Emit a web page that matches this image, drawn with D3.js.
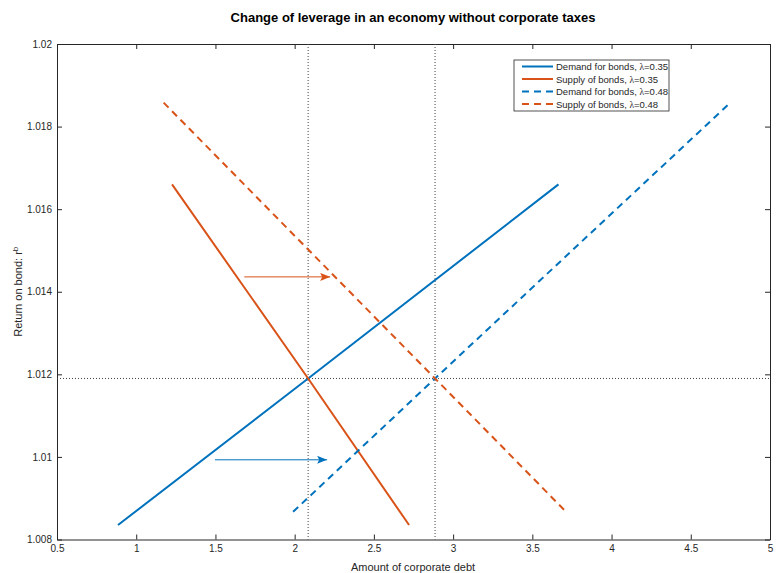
<!DOCTYPE html>
<html>
<head>
<meta charset="utf-8">
<script src="https://cdn.jsdelivr.net/npm/d3@7"></script>
<style>
  body { margin: 0; background: #fff; }
  text { font-family: "Liberation Sans", Arial, sans-serif; }
</style>
</head>
<body>
<div class="chart"></div>
<script>
// values
let demand035X = [0.885, 2.085, 3.665];
let demand035Y = [1.00835, 1.0119, 1.0166];
let supply035X = [1.226, 2.085, 2.722];
let supply035Y = [1.0166, 1.0119, 1.00835];
let demand048X = [1.99, 2.886, 4.75];
let demand048Y = [1.00867, 1.0119, 1.01858];
let supply048X = [1.173, 2.886, 3.713];
let supply048Y = [1.01858, 1.0119, 1.00867];

let equilibriumX = [2.085, 2.886];
let equilibriumY = 1.0119;

let arrowOrangeX = [1.682, 2.224], arrowOrangeY = 1.01436;
let arrowBlueX = [1.497, 2.205], arrowBlueY = 1.00993;

let xTicks = [0.5, 1, 1.5, 2, 2.5, 3, 3.5, 4, 4.5, 5];
let yTicks = [1.008, 1.01, 1.012, 1.014, 1.016, 1.018, 1.02];

let legendNames = ["Demand for bonds, ", "Supply of bonds, ", "Demand for bonds, ", "Supply of bonds, "];
let legendLambda = ["0.35", "0.35", "0.48", "0.48"];

let width = 776, height = 573;
let plotLeft = 57, plotRight = 770, plotTop = 44, plotBottom = 539.5;
let blue = "#0072BD", orange = "#D95319", axisColor = "#262626";

let svg = d3.select(".chart")
    .append("svg")
    .attr("width", width)
    .attr("height", height);

let xScale = d3.scaleLinear().domain([0.5, 5]).range([plotLeft, plotRight]);
let yScale = d3.scaleLinear().domain([1.008, 1.02]).range([plotBottom, plotTop]);

// axes, MATLAB style with inward ticks on all four sides
let fmt = d => String(+d.toFixed(3));

svg.append("g")
    .attr("transform", "translate(0," + plotBottom + ")")
    .call(d3.axisBottom(xScale).tickValues(xTicks).tickFormat(fmt).tickSizeInner(-5).tickSizeOuter(0).tickPadding(5));
svg.append("g")
    .attr("transform", "translate(" + plotLeft + ",0)")
    .call(d3.axisLeft(yScale).tickValues(yTicks).tickFormat(fmt).tickSizeInner(-5).tickSizeOuter(0).tickPadding(5));
svg.append("g")
    .attr("transform", "translate(0," + plotTop + ")")
    .call(d3.axisTop(xScale).tickValues(xTicks).tickFormat("").tickSizeInner(-5).tickSizeOuter(0));
svg.append("g")
    .attr("transform", "translate(" + plotRight + ",0)")
    .call(d3.axisRight(yScale).tickValues(yTicks).tickFormat("").tickSizeInner(-5).tickSizeOuter(0));

svg.selectAll(".domain").attr("stroke", axisColor).attr("stroke-width", 1);
svg.selectAll(".tick line").attr("stroke", axisColor);
svg.selectAll(".tick text")
    .attr("fill", axisColor)
    .style("font-size", "10px")
    .style("font-family", "'Liberation Sans', Arial, sans-serif");

// dotted reference lines
svg.selectAll(".vref")
    .data(equilibriumX)
    .enter()
    .append("line")
    .attr("x1", d => xScale(d)).attr("x2", d => xScale(d))
    .attr("y1", plotTop).attr("y2", plotBottom)
    .attr("stroke", "#444").attr("stroke-width", 1)
    .attr("stroke-dasharray", "1,2");
svg.append("line")
    .attr("x1", plotLeft).attr("x2", plotRight)
    .attr("y1", yScale(equilibriumY)).attr("y2", yScale(equilibriumY))
    .attr("stroke", "#444").attr("stroke-width", 1)
    .attr("stroke-dasharray", "1,2");

// curves
let series = [
    { x: demand035X, y: demand035Y, color: blue, dash: null },
    { x: supply035X, y: supply035Y, color: orange, dash: null },
    { x: demand048X, y: demand048Y, color: blue, dash: "7,5" },
    { x: supply048X, y: supply048Y, color: orange, dash: "7,5" }
];

let line = d3.line()
    .x(d => xScale(d[0]))
    .y(d => yScale(d[1]));

series.forEach(s => {
    svg.append("path")
        .datum(d3.zip(s.x, s.y))
        .attr("d", line)
        .attr("fill", "none")
        .attr("stroke", s.color)
        .attr("stroke-width", 2)
        .attr("stroke-dasharray", s.dash);
});

// arrows
let defs = svg.append("defs");
[["arrowOrange", orange], ["arrowBlue", blue]].forEach(a => {
    defs.append("marker")
        .attr("id", a[0])
        .attr("viewBox", "0 0 10 8")
        .attr("refX", 10).attr("refY", 4)
        .attr("markerWidth", 10).attr("markerHeight", 8)
        .attr("markerUnits", "userSpaceOnUse")
        .attr("orient", "auto")
        .append("path")
        .attr("d", "M0,0 L10,4 L0,8 L2,4 Z")
        .attr("fill", a[1]);
});
svg.append("line")
    .attr("x1", xScale(arrowOrangeX[0])).attr("x2", xScale(arrowOrangeX[1]))
    .attr("y1", yScale(arrowOrangeY)).attr("y2", yScale(arrowOrangeY))
    .attr("stroke", orange).attr("stroke-width", 1)
    .attr("marker-end", "url(#arrowOrange)");
svg.append("line")
    .attr("x1", xScale(arrowBlueX[0])).attr("x2", xScale(arrowBlueX[1]))
    .attr("y1", yScale(arrowBlueY)).attr("y2", yScale(arrowBlueY))
    .attr("stroke", blue).attr("stroke-width", 1)
    .attr("marker-end", "url(#arrowBlue)");

// legend
let legend = svg.append("g").attr("transform", "translate(514,60)");
legend.append("rect")
    .attr("width", 155).attr("height", 51)
    .attr("fill", "#fff").attr("stroke", axisColor).attr("stroke-width", 0.8);
series.forEach((s, i) => {
    let yy = 6.5 + i * 12.5;
    legend.append("line")
        .attr("x1", 8).attr("x2", 39)
        .attr("y1", yy).attr("y2", yy)
        .attr("stroke", s.color).attr("stroke-width", 2)
        .attr("stroke-dasharray", s.dash);
    let t = legend.append("text")
        .attr("x", 42).attr("y", yy + 3.5)
        .style("font-size", "9.5px")
        .attr("fill", axisColor);
    t.append("tspan").text(legendNames[i]);
    t.append("tspan").style("font-family", "'Liberation Serif', 'Times New Roman', serif").text("λ");
    t.append("tspan").text("=" + legendLambda[i]);
});

// title and labels
svg.append("text")
    .attr("x", 413).attr("y", 22)
    .attr("text-anchor", "middle")
    .style("font-size", "13px").style("font-weight", "bold")
    .attr("fill", "#000")
    .text("Change of leverage in an economy without corporate taxes");

svg.append("text")
    .attr("x", 413).attr("y", 571)
    .attr("text-anchor", "middle")
    .style("font-size", "11px")
    .attr("fill", axisColor)
    .text("Amount of corporate debt");

let yl = svg.append("text")
    .attr("transform", "translate(22," + ((plotTop + plotBottom) / 2) + ") rotate(-90)")
    .attr("text-anchor", "middle")
    .style("font-size", "11px")
    .attr("fill", axisColor);
yl.append("tspan").text("Return on bond: r");
yl.append("tspan").attr("dy", -4).style("font-size", "8px").text("b");
</script>
</body>
</html>
